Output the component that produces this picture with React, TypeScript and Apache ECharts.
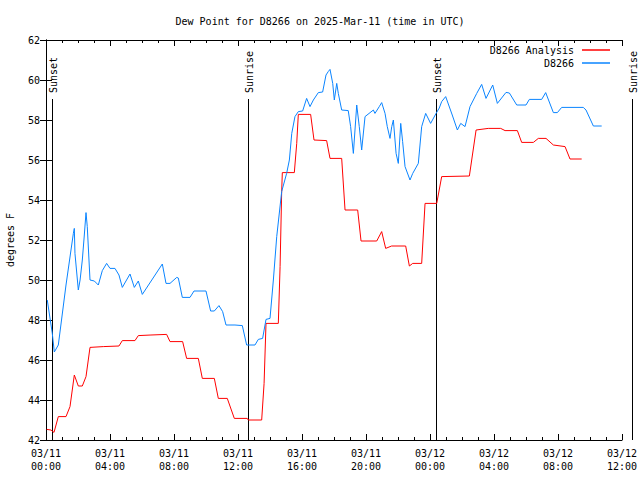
import React, { useEffect, useRef } from "react";
import * as echarts from "echarts";

const TITLE = "Dew Point for D8266 on 2025-Mar-11 (time in UTC)";
const Y_NAME = "degrees F";
const OBS_NAME = "D8266";
const ANA_NAME = "D8266 Analysis";

// hours since 03/11 00:00 UTC
const obsHours = [
  0.08, 0.39, 0.52, 0.77, 1.25, 1.71, 1.77, 1.81, 2.02, 2.13, 2.27, 2.39, 2.5, 2.58, 2.75,
  3.02, 3.27, 3.52, 3.79, 4.0, 4.31, 4.56, 4.77, 5.25, 5.52, 5.77, 6.02, 7.27, 7.5, 7.75,
  8.17, 8.27, 8.52, 9.0, 9.25, 10.0, 10.29, 10.52, 10.81, 11.04, 11.25, 11.81, 12.27, 12.54,
  13.06, 13.27, 13.54, 13.75, 14.0, 14.21, 14.42, 14.73, 15.04, 15.21, 15.36, 15.56, 15.77,
  16.04, 16.29, 16.5, 16.71, 17.02, 17.29, 17.5, 17.64, 17.75, 17.92, 18.02, 18.17, 18.27,
  18.48, 18.89, 19.04, 19.21, 19.42, 19.58, 19.73, 19.94, 20.46, 20.56, 20.83, 20.98, 21.19,
  21.33, 21.5, 21.61, 21.71, 21.88, 22.02, 22.17, 22.29, 22.44, 22.75, 22.92, 23.27, 23.48,
  23.73, 24.04, 24.38, 24.58, 24.73, 24.98, 25.39, 25.71, 25.92, 26.19, 26.5, 26.92, 27.23,
  27.5, 27.92, 28.21, 28.75, 28.96, 29.42, 30.0, 30.21, 30.98, 31.23, 31.71, 31.96, 32.23,
  33.58, 33.75, 34.21, 34.73,
];
const obsValues = [
  49.0, 47.35, 46.4, 46.75, 49.75, 52.33, 52.58, 51.33, 49.5, 50.0, 51.0, 52.2, 53.37, 52.67, 50.0,
  49.95, 49.75, 50.47, 50.83, 50.58, 50.58, 50.25, 49.63, 50.3, 49.63, 49.95, 49.28, 50.8, 49.83, 49.83,
  50.13, 50.1, 49.13, 49.13, 49.45, 49.45, 48.45, 48.45, 48.72, 48.42, 47.75, 47.75, 47.72, 46.75,
  46.75, 47.03, 47.08, 48.03, 48.08, 50.0, 52.17, 54.42, 55.33, 56.0, 57.33, 58.17, 58.42,
  58.45, 59.08, 58.67, 59.0, 59.37, 59.4, 60.25, 60.42, 60.53, 59.83, 59.0, 59.83, 59.33,
  58.5, 58.47, 57.67, 56.33, 58.75, 57.67, 56.5, 58.17, 58.5, 58.33, 58.67, 58.87, 58.33,
  57.67, 57.08, 57.67, 58.0, 56.33, 55.83, 57.83, 56.92, 55.67, 55.0, 55.33, 55.83, 57.67,
  58.33, 57.83, 58.33, 58.6, 58.92, 59.17, 58.25, 57.5, 57.83, 57.67, 58.67, 59.33, 59.78,
  59.08, 59.75, 58.83, 59.38, 59.35, 58.75, 58.75, 59.03, 59.03, 59.37, 58.37, 58.37, 58.63,
  58.63, 58.5, 57.7, 57.7,
];

const anaHours = [
  0.04, 0.31, 0.5, 0.77, 1.25, 1.5, 1.77, 2.02, 2.27, 2.5, 2.75, 3.58, 4.56, 4.77, 5.56,
  5.77, 6.56, 7.54, 7.75, 8.54, 8.79, 9.52, 9.77, 10.52, 10.77, 11.33, 11.77, 12.58, 12.64,
  13.48, 13.63, 13.75, 14.52, 14.63, 14.73, 14.77, 15.52, 15.67, 15.77, 16.54, 16.75, 17.54,
  17.75, 18.48, 18.69, 19.48, 19.69, 20.67, 20.98, 21.23, 21.6, 22.48, 22.71, 22.92, 23.48,
  23.69, 24.42, 24.73, 26.46, 26.88, 27.64, 28.42, 28.69, 29.46, 29.73, 30.46, 30.77, 31.25,
  31.71, 32.44, 32.75, 33.48,
];
const anaValues = [
  42.53, 42.5, 42.38, 43.17, 43.17, 43.67, 45.25, 44.7, 44.7, 45.17, 46.63, 46.67, 46.7, 46.97, 46.97,
  47.22, 47.25, 47.28, 46.92, 46.92, 46.08, 46.08, 45.08, 45.08, 44.08, 44.08, 43.08, 43.08, 43.0,
  43.0, 44.83, 47.83, 47.83, 50.67, 54.42, 55.37, 55.37, 56.83, 58.28, 58.28, 57.0, 56.97,
  56.08, 56.08, 53.5, 53.5, 51.95, 51.95, 52.42, 51.58, 51.7, 51.7, 50.7, 50.83, 50.83,
  53.83, 53.83, 55.17, 55.2, 57.5, 57.58, 57.58, 57.47, 57.47, 56.88, 56.88, 57.08, 57.08,
  56.75, 56.67, 56.05, 56.05,
];

const xTickLabels = [
  "03/11\n00:00", "03/11\n04:00", "03/11\n08:00", "03/11\n12:00", "03/11\n16:00",
  "03/11\n20:00", "03/12\n00:00", "03/12\n04:00", "03/12\n08:00", "03/12\n12:00",
];

const sunEventNames = ["Sunset", "Sunrise", "Sunset", "Sunrise"];
const sunEventHours = [0.39, 12.64, 24.375, 36.625];

const FONT = "DejaVu Sans Mono";

export default function App() {
  const ref = useRef<HTMLDivElement>(null);
  useEffect(() => {
    if (!ref.current) return;
    const chart = echarts.init(ref.current, undefined, { renderer: "svg" });
    const zip = (a: number[], b: number[]) => a.map((h, i) => [h, b[i]]);
    const xCommon = {
      type: "value" as const,
      min: 0,
      max: 36,
      interval: 4,
      axisLine: { show: true, lineStyle: { color: "#000", width: 1 } },
      axisTick: { show: true, inside: true, length: 6, lineStyle: { color: "#000" } },
      minorTick: { show: true, splitNumber: 4, length: 3, lineStyle: { color: "#000" } },
      splitLine: { show: false },
    };
    const yCommon = {
      type: "value" as const,
      min: 42,
      max: 62,
      interval: 2,
      axisLine: { show: true, lineStyle: { color: "#000", width: 1 } },
      axisTick: { show: true, inside: true, length: 6, lineStyle: { color: "#000" } },
      splitLine: { show: false },
    };
    chart.setOption({
      animation: false,
      backgroundColor: "#fff",
      textStyle: { fontFamily: FONT },
      title: {
        text: TITLE,
        left: "center",
        top: 11,
        textStyle: { fontFamily: FONT, fontSize: 10, fontWeight: "normal", color: "#000" },
      },
      legend: {
        orient: "vertical",
        right: 25,
        top: 39,
        align: "right",
        icon: "rect",
        itemWidth: 28,
        itemHeight: 1.5,
        itemGap: 1,
        textStyle: { fontFamily: FONT, fontSize: 10, color: "#000", lineHeight: 12, padding: [0, 3, 0, 0] },
        data: [ANA_NAME, OBS_NAME],
      },
      grid: { left: 46, right: 18, top: 40, bottom: 40, containLabel: false, outerBoundsMode: "none" },
      xAxis: [
        {
          ...xCommon,
          position: "bottom",
          axisLabel: {
            show: true,
            fontFamily: FONT,
            fontSize: 10,
            color: "#000",
            lineHeight: 13,
            margin: 7,
            formatter: (v: number) => xTickLabels[Math.round(v / 4)] ?? "",
          },
        },
        { ...xCommon, position: "top", axisLabel: { show: false } },
      ],
      yAxis: [
        {
          ...yCommon,
          position: "left",
          name: Y_NAME,
          nameLocation: "middle",
          nameGap: 31,
          nameRotate: 90,
          nameTextStyle: { fontFamily: FONT, fontSize: 10, color: "#000" },
          axisLabel: { fontFamily: FONT, fontSize: 10, color: "#000", margin: 6 },
        },
        { ...yCommon, position: "right", axisLabel: { show: false } },
      ],
      series: [
        {
          name: ANA_NAME,
          type: "line",
          symbol: "none",
          data: zip(anaHours, anaValues),
          lineStyle: { color: "#ff0000", width: 1 },
          itemStyle: { color: "#ff0000" },
        },
        {
          name: OBS_NAME,
          type: "line",
          symbol: "none",
          data: zip(obsHours, obsValues),
          lineStyle: { color: "#0a84ff", width: 1 },
          itemStyle: { color: "#0a84ff" },
        },
      ],
    });
    const yBottom = chart.convertToPixel({ yAxisIndex: 0 }, 42) as number;
    const elements: any[] = [];
    sunEventHours.forEach((h, i) => {
      const x = Math.round(chart.convertToPixel({ xAxisIndex: 0 }, h) as number) + 0.5;
      elements.push({
        type: "line",
        shape: { x1: x, y1: 99, x2: x, y2: yBottom },
        style: { stroke: "#000", lineWidth: 1 },
        silent: true,
      });
      elements.push({
        type: "text",
        x: x + 1,
        y: 93,
        rotation: Math.PI / 2,
        style: {
          text: sunEventNames[i],
          fontFamily: FONT,
          fontSize: 10,
          fill: "#000",
          align: "left",
          verticalAlign: "middle",
        },
        silent: true,
      });
    });
    chart.setOption({ graphic: elements });
    return () => chart.dispose();
  }, []);
  return <div ref={ref} style={{ width: 640, height: 480, position: "absolute", left: 0, top: 0 }} />;
}
